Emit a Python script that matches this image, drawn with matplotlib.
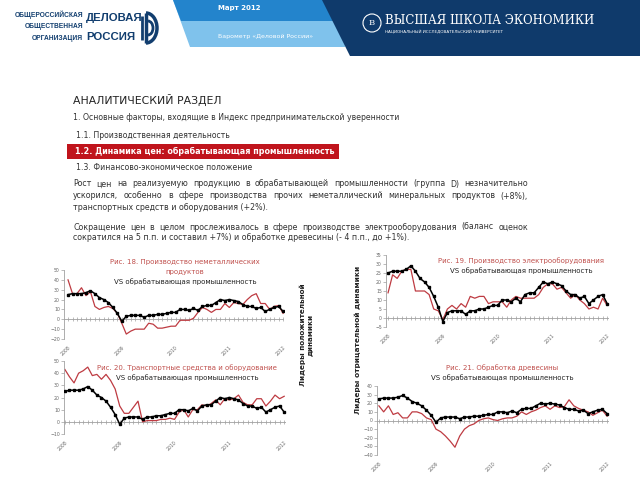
import matplotlib
matplotlib.use("Agg")
import matplotlib.pyplot as plt
from matplotlib.patches import Polygon, Rectangle, Circle, Arc

# ── Data (balance of estimates, %) ─────────────────────────────────────
years = ["2008", "2009", "2010", "2011", "2012"]
year_pos = [0, 12, 24, 36, 48]

manufacturing = [25, 26, 26, 26, 27, 29, 26, 22, 20, 17, 12, 6, -2,
                 3, 4, 4, 4, 2, 4, 4, 5, 5, 6, 7, 7,
                 10, 10, 9, 11, 9, 13, 14, 14, 17, 20, 19, 20,
                 19, 18, 15, 13, 13, 11, 12, 8, 10, 12, 13, 8]

nonmetallic = [40, 26, 26, 32, 24, 28, 13, 10, 12, 13, 11, 6, -4,
               -15, -12, -10, -10, -10, -4, -5, -9, -9, -8, -7, -7,
               -1, -1, -1, 1, 7, 12, 10, 7, 10, 10, 16, 12,
               17, 16, 15, 20, 24, 26, 16, 16, 10, 13, 14, 6]

electrical = [14, 24, 22, 26, 27, 27, 15, 15, 15, 13, 5, 4, -1,
              5, 7, 5, 8, 6, 12, 11, 12, 12, 8, 9, 9,
              9, 6, 10, 12, 11, 11, 11, 11, 13, 17, 19, 19,
              16, 17, 14, 11, 13, 10, 8, 5, 6, 5, 11, 7]

transport = [43, 37, 32, 40, 42, 45, 38, 39, 35, 39, 34, 27, 13,
             7, 7, 12, 17, 0, 1, 1, 1, 2, 2, 3, 2,
             8, 10, 4, 10, 10, 14, 13, 15, 18, 14, 19, 18,
             19, 22, 16, 14, 14, 19, 19, 13, 17, 22, 19, 21]

wood = [17, 10, 17, 7, 9, 3, 3, 10, 10, 8, 3, 1, -10,
        -13, -18, -24, -31, -18, -10, -6, -4, 0, 2, 3, 1,
        0, 2, 3, 3, 5, 10, 7, 10, 12, 15, 17, 13,
        17, 15, 16, 24, 17, 14, 12, 10, 6, 9, 12, 5]

RED = "#BE3B42"
TITLE_RED = "#C0504D"
NAVY = "#123E6F"

fig = plt.figure(figsize=(6.4, 4.8), dpi=100)
bg = fig.add_axes([0, 0, 1, 1])
bg.set_xlim(0, 640)
bg.set_ylim(480, 0)
bg.axis("off")

# ── Header ─────────────────────────────────────────────────────────────
bg.add_patch(Polygon([(173, 0), (345, 0), (345, 47), (190, 47)], closed=True,
                     facecolor="#7FC2EC", edgecolor="none"))
bg.add_patch(Polygon([(173, 0), (345, 0), (345, 21), (181, 21)], closed=True,
                     facecolor="#2384CC", edgecolor="none"))
bg.add_patch(Polygon([(322, 0), (640, 0), (640, 56), (350, 56)], closed=True,
                     facecolor="#0F3A6B", edgecolor="none"))
bg.text(218, 8, "Март 2012", color="white", fontsize=5, fontweight="bold",
        va="center", ha="left")
bg.text(218, 36, "Барометр «Деловой России»", color="white", fontsize=4.5,
        va="center", ha="left")

bg.add_patch(Circle((372, 23), 9, facecolor="none", edgecolor="white", lw=0.8))
bg.text(372, 23, "В", color="white", fontsize=6, ha="center", va="center",
        family="DejaVu Serif")
bg.text(385, 21, "ВЫСШАЯ ШКОЛА ЭКОНОМИКИ", color="white", fontsize=8.5,
        family="DejaVu Serif", va="center", ha="left")
bg.text(385, 32, "НАЦИОНАЛЬНЫЙ ИССЛЕДОВАТЕЛЬСКИЙ УНИВЕРСИТЕТ", color="white",
        fontsize=3, va="center", ha="left")

for txt, y in [("ОБЩЕРОССИЙСКАЯ", 15), ("ОБЩЕСТВЕННАЯ", 27), ("ОРГАНИЗАЦИЯ", 39)]:
    bg.text(83, y, txt, color=NAVY, fontsize=4.8, fontweight="bold",
            family="Liberation Sans", ha="right", va="center")
for txt, y in [("ДЕЛОВАЯ", 18), ("РОССИЯ", 37)]:
    bg.text(86, y, txt, color=NAVY, fontsize=8.2, fontweight="bold",
            family="Liberation Sans", ha="left", va="center")
bg.add_patch(Arc((146, 28), 22, 30, theta1=-90, theta2=90, color=NAVY, lw=2.5))
bg.plot([146, 146], [13, 43], color=NAVY, lw=2.5, solid_capstyle="butt")
bg.add_patch(Arc((148, 28), 10, 14, theta1=-90, theta2=90, color=NAVY, lw=2))
bg.plot([142, 142], [16, 40], color=NAVY, lw=2, solid_capstyle="butt")

# ── Text block ─────────────────────────────────────────────────────────
TXT = "#333333"
bg.text(73, 100, "АНАЛИТИЧЕСКИЙ РАЗДЕЛ", fontsize=7.8, color="#222222",
        va="center", ha="left")
bg.text(73, 118, "1. Основные факторы, входящие в Индекс предпринимательской уверенности",
        fontsize=5.6, color=TXT, va="center", ha="left")
bg.text(76, 135, "1.1. Производственная деятельность", fontsize=5.6, color=TXT,
        va="center", ha="left")
bg.add_patch(Rectangle((67, 144), 272, 15, facecolor="#C0141C", edgecolor="none"))
bg.text(75, 151, "1.2. Динамика цен: обрабатывающая промышленность", fontsize=5.8,
        fontweight="bold", color="white", va="center", ha="left")
bg.text(76, 167, "1.3. Финансово-экономическое положение", fontsize=5.6, color=TXT,
        va="center", ha="left")

renderer = fig.canvas.get_renderer()


def justified(line, y, x0=73, x1=528, fs=5.7, justify=True):
    words = line.split()
    if not justify:
        bg.text(x0, y, line, fontsize=fs, color=TXT, va="center", ha="left")
        return
    arts = [bg.text(0, y, w, fontsize=fs, color=TXT, va="center", ha="left")
            for w in words]
    widths = [a.get_window_extent(renderer).width for a in arts]
    gap = (x1 - x0 - sum(widths)) / (len(words) - 1)
    x = x0
    for a, w in zip(arts, widths):
        a.set_x(x)
        x += w + gap


justified("Рост цен на реализуемую продукцию в обрабатывающей промышленности (группа D) незначительно", 184)
justified("ускорился, особенно в сфере производства прочих неметаллический минеральных продуктов (+8%),", 196)
justified("транспортных средств и оборудования (+2%).", 208, justify=False)
justified("Сокращение цен в целом прослеживалось в сфере производстве электрооборудования (баланс оценок", 227)
justified("сократился на 5 п.п. и составил +7%) и обработке древесины (- 4 п.п., до +1%).", 238, justify=False)

bg.text(306, 335, "Лидеры положительной\nдинамики", rotation=90, fontsize=5.2,
        fontweight="bold", color="#222222", ha="center", va="center",
        multialignment="center", linespacing=1.3)
bg.text(358, 340, "Лидеры отрицательной динамики", rotation=90, fontsize=5.3,
        fontweight="bold", color="#222222", ha="center", va="center")


# ── Charts ─────────────────────────────────────────────────────────────
def chart(left, top, right, bottom, xlim, ylim, step, series):
    ax = fig.add_axes([left / 640, 1 - bottom / 480, (right - left) / 640,
                       (bottom - top) / 480])
    ax.patch.set_alpha(0)
    x = list(range(len(manufacturing)))
    ax.axhline(0, color="#A0A0A0", lw=0.6, zorder=1)
    ax.plot(x, [0] * len(x), ls="none", marker="|", ms=3, mew=0.5,
            color="#A0A0A0", zorder=1)
    ax.plot(x, series, color=RED, lw=0.9, zorder=2)
    ax.plot(x, manufacturing, color="black", lw=1.1, marker="s", ms=1.9,
            zorder=3)
    ax.set_xlim(*xlim)
    ax.set_ylim(*ylim)
    ax.set_yticks(range(ylim[0], ylim[1] + 1, step))
    ax.set_xticks(year_pos)
    ax.set_xticklabels(years, rotation=45, ha="right", rotation_mode="anchor")
    for s in ["top", "right", "bottom"]:
        ax.spines[s].set_visible(False)
    ax.spines["left"].set_color("#A0A0A0")
    ax.spines["left"].set_linewidth(0.6)
    ax.tick_params(axis="y", length=2, width=0.5, color="#A0A0A0",
                   labelsize=3.3, labelcolor="#666666", pad=1)
    ax.tick_params(axis="x", length=0, labelsize=3.3, labelcolor="#666666",
                   pad=4)
    return ax


chart(64, 270, 284, 339, (-0.9, 48.2), (-20, 50), 10, nonmetallic)
chart(64, 361, 286, 434, (-0.2, 48.4), (-10, 50), 10, transport)
chart(386, 255, 609, 327, (-0.45, 48.4), (-5, 35), 5, electrical)
chart(377, 386, 609, 455, (-0.4, 48.4), (-40, 40), 10, wood)

titles = [
    (185, [(262, "Рис. 18. Производство неметаллических", TITLE_RED),
           (272, "продуктов", TITLE_RED),
           (282, "VS обрабатывающая промышленность", "#222222")]),
    (187, [(368, "Рис. 20. Транспортные средства и оборудование", TITLE_RED),
           (378, "VS обрабатывающая промышленность", "#222222")]),
    (521, [(261, "Рис. 19. Производство электрооборудования", TITLE_RED),
           (271, "VS обрабатывающая промышленность", "#222222")]),
    (502, [(368, "Рис. 21. Обработка древесины", TITLE_RED),
           (378, "VS обрабатывающая промышленность", "#222222")]),
]
for xc, lines in titles:
    for y, txt, col in lines:
        bg.text(xc, y, txt, fontsize=5.0, color=col, ha="center", va="center",
                zorder=5)

fig.savefig("out.png", dpi=100)
